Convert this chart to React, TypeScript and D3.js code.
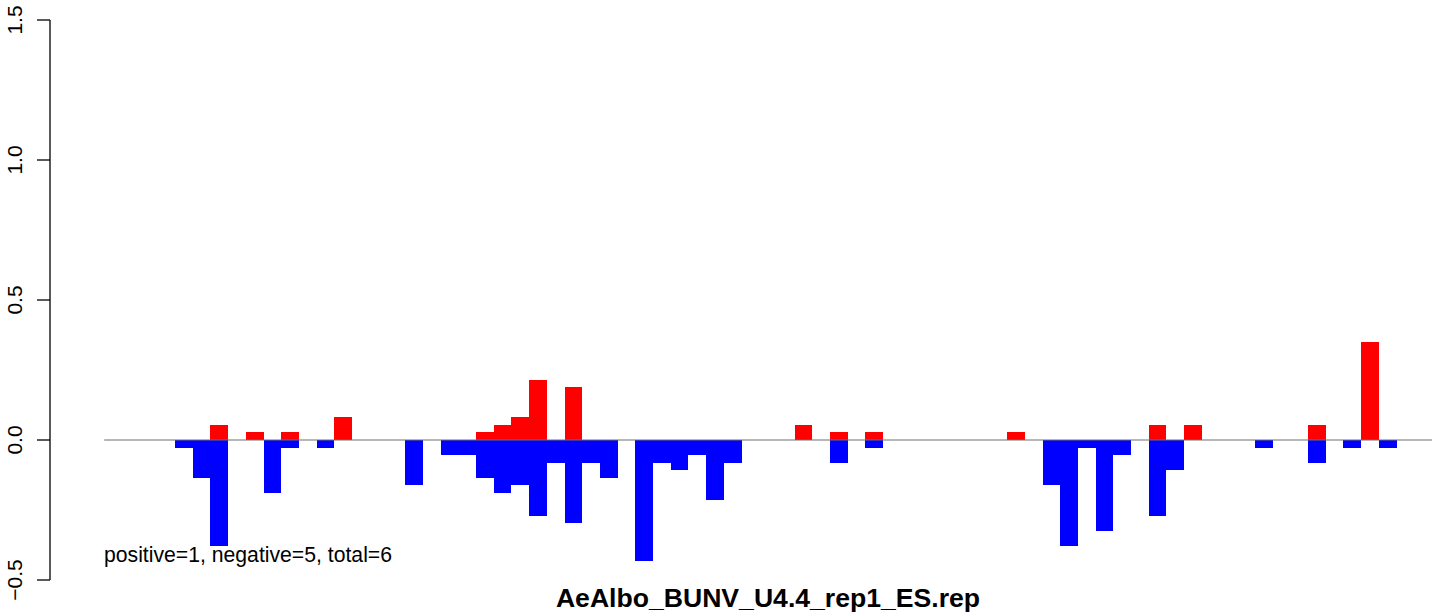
import React from "react";
import * as d3 from "d3";

const title = "AeAlbo_BUNV_U4.4_rep1_ES.rep";
const annotation = "positive=1, negative=5, total=6";
const yTicks = [-0.5, 0.0, 0.5, 1.0, 1.5];
const yTickLabels = ["\u22120.5", "0.0", "0.5", "1.0", "1.5"];

// 75 bins; value per bin
const positive = [
  0, 0, 0, 0, 0, 0, 0.054, 0, 0.027, 0,
  0.027, 0, 0, 0.083, 0, 0, 0, 0, 0, 0,
  0, 0.027, 0.054, 0.083, 0.216, 0, 0.189, 0, 0, 0,
  0, 0, 0, 0, 0, 0, 0, 0, 0, 0.054,
  0, 0.027, 0, 0.027, 0, 0, 0, 0, 0, 0,
  0, 0.027, 0, 0, 0, 0, 0, 0, 0, 0.054,
  0, 0.054, 0, 0, 0, 0, 0, 0, 0.054, 0,
  0, 0.351, 0, 0, 0,
];
const negative = [
  0, 0, 0, 0, -0.027, -0.135, -0.378, 0, 0, -0.189,
  -0.027, 0, -0.027, 0, 0, 0, 0, -0.162, 0, -0.054,
  -0.054, -0.135, -0.189, -0.162, -0.27, -0.081, -0.297, -0.081, -0.135, 0,
  -0.432, -0.081, -0.108, -0.054, -0.216, -0.081, 0, 0, 0, 0,
  0, -0.081, 0, -0.027, 0, 0, 0, 0, 0, 0,
  0, 0, 0, -0.162, -0.378, -0.027, -0.324, -0.054, 0, -0.27,
  -0.108, 0, 0, 0, 0, -0.027, 0, 0, -0.081, 0,
  -0.027, 0, -0.027, 0, 0,
];

const W = 1444;
const H = 616;
const font = "'Liberation Sans', Arial, Helvetica, sans-serif";

export default function App() {
  const idx = d3.range(positive.length);
  const x = d3.scaleBand<number>().domain(idx).range([104.2, 1432]).padding(0);
  const y = d3.scaleLinear().domain([-0.5, 1.5]).range([580, 20]);
  const y0 = y(0);
  const axisX = 50;

  return (
    <svg
      width={W}
      height={H}
      style={{ position: "absolute", left: 0, top: 0, background: "#fff" }}
    >
      {/* bars */}
      {idx.map((i) =>
        positive[i] !== 0 ? (
          <rect
            key={"p" + i}
            x={x(i)}
            y={y(positive[i])}
            width={x.bandwidth()}
            height={y0 - y(positive[i])}
            fill="#FF0000"
            shapeRendering="crispEdges"
          />
        ) : null
      )}
      {idx.map((i) =>
        negative[i] !== 0 ? (
          <rect
            key={"n" + i}
            x={x(i)}
            y={y0}
            width={x.bandwidth()}
            height={y(negative[i]) - y0}
            fill="#0000FF"
            shapeRendering="crispEdges"
          />
        ) : null
      )}
      {/* baseline */}
      <line
        x1={104.2}
        x2={1432}
        y1={y0}
        y2={y0}
        stroke="#6e6e6e"
        strokeWidth={1}
      />
      {/* y axis */}
      <line x1={axisX} x2={axisX} y1={y(-0.5)} y2={y(1.5)} stroke="#000" strokeWidth={1.3} />
      {yTicks.map((t, k) => (
        <g key={"t" + k}>
          <line x1={axisX - 13} x2={axisX} y1={y(t)} y2={y(t)} stroke="#000" strokeWidth={1.3} />
          <text
            x={22}
            y={y(t)}
            transform={`rotate(-90, 22, ${y(t)})`}
            textAnchor="middle"
            fontFamily={font}
            fontSize={21}
            fill="#000"
          >
            {yTickLabels[k]}
          </text>
        </g>
      ))}
      {/* annotation */}
      <text x={104} y={562} fontFamily={font} fontSize={21.2} fill="#000">
        {annotation}
      </text>
      {/* title */}
      <text
        x={768}
        y={607}
        textAnchor="middle"
        fontFamily={font}
        fontSize={26.6}
        fontWeight="bold"
        fill="#000"
      >
        {title}
      </text>
    </svg>
  );
}
